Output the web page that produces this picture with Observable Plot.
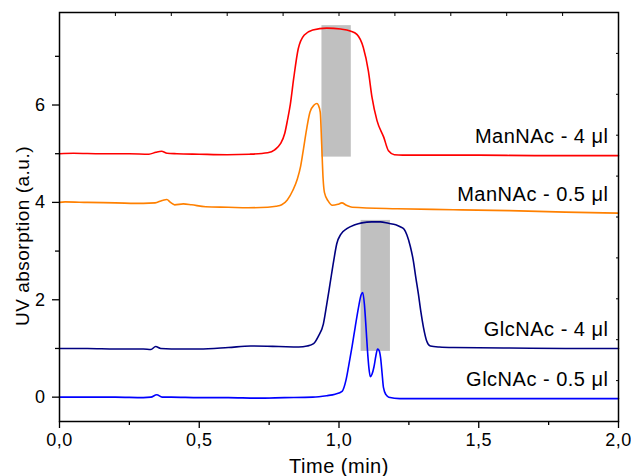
<!DOCTYPE html>
<html><head><meta charset="utf-8">
<script src="https://cdn.jsdelivr.net/npm/d3@7"></script>
<script src="https://cdn.jsdelivr.net/npm/@observablehq/plot@0.6"></script>
<style>html,body{margin:0;padding:0;background:#fff}#chart svg text{letter-spacing:0.5px}</style>
</head><body><div id="chart"></div>
<script>
// ---- data ----
const redT = [0,0.05,0.15,0.25,0.32,0.345,0.365,0.385,0.42,0.5,0.6,0.68,0.745,0.77,0.79,0.806,0.816,0.826,0.838,0.854,0.876,0.906,0.956,1.006,1.04,1.064,1.087,1.105,1.118,1.136,1.16,1.177,1.198,1.228,1.3,1.5,1.7,2.0];
const redV = [5.0,5.01,5.0,5.0,4.99,5.03,5.05,5.01,5.0,4.99,4.98,4.99,5.02,5.08,5.2,5.42,5.7,6.02,6.55,7.15,7.44,7.54,7.58,7.56,7.52,7.45,7.18,6.7,6.16,5.68,5.34,5.06,4.98,4.97,4.97,4.97,4.96,4.96];

const orangeT = [0,0.02,0.1,0.2,0.3,0.342,0.367,0.384,0.397,0.412,0.443,0.473,0.523,0.604,0.674,0.745,0.775,0.795,0.815,0.835,0.851,0.863,0.873,0.884,0.896,0.911,0.921,0.926,0.933,0.938,0.943,0.948,0.961,0.976,0.996,1.01,1.027,1.047,1.208,1.41,1.61,1.81,2.0];
const orangeV = [4.0,4.01,4.0,3.99,3.98,3.99,4.04,4.06,4.0,3.95,3.97,3.95,3.91,3.9,3.89,3.9,3.92,3.95,4.05,4.25,4.48,4.75,5.1,5.5,5.85,6.0,6.03,6.0,5.85,5.2,4.5,4.2,4.03,3.94,3.96,3.99,3.94,3.9,3.87,3.85,3.83,3.8,3.78];

const navyT = [0,0.1,0.2,0.3,0.327,0.344,0.362,0.4,0.5,0.604,0.684,0.785,0.856,0.886,0.909,0.926,0.944,0.956,0.968,0.981,0.992,1.007,1.028,1.057,1.082,1.117,1.148,1.177,1.203,1.219,1.233,1.243,1.255,1.266,1.275,1.284,1.293,1.302,1.314,1.327,1.359,1.41,1.61,1.81,2.0];
const navyV = [1.0,1.0,0.99,0.99,0.98,1.04,1.0,0.99,0.99,1.02,1.05,1.04,1.03,1.05,1.1,1.25,1.5,1.9,2.33,2.8,3.15,3.35,3.46,3.54,3.58,3.6,3.6,3.57,3.54,3.5,3.45,3.33,3.1,2.8,2.45,2.12,1.75,1.44,1.15,1.05,1.03,1.02,1.01,1.0,1.0];

const blueT = [0,0.1,0.2,0.3,0.327,0.348,0.367,0.4,0.5,0.604,0.705,0.805,0.906,0.956,0.986,1.011,1.025,1.034,1.047,1.058,1.07,1.079,1.085,1.091,1.097,1.102,1.107,1.112,1.118,1.125,1.132,1.138,1.144,1.149,1.154,1.159,1.168,1.178,1.218,1.41,1.71,2.0];
const blueV = [0.0,0.0,0.0,-0.01,0.0,0.05,0.0,0.0,-0.01,-0.01,-0.02,-0.01,0.0,0.03,0.06,0.12,0.35,0.62,1.05,1.44,1.85,2.1,2.15,1.9,1.4,0.95,0.6,0.42,0.47,0.62,0.85,0.99,0.95,0.8,0.5,0.2,0.05,0.0,-0.03,-0.03,-0.03,-0.03];

const seriesLabels = ["ManNAc - 4 μl", "ManNAc - 0.5 μl", "GlcNAc - 4 μl", "GlcNAc - 0.5 μl"];
const seriesColors = ["#ff0000", "#ff8000", "#000080", "#0000ff"];

const bandX1 = [0.939, 1.079];
const bandX2 = [1.044, 1.184];
const bandY1 = [4.93, 0.94];
const bandY2 = [7.63, 3.63];

const xMajorTicks = [0, 0.5, 1.0, 1.5, 2.0];
const xMinorTicks = [0.25, 0.75, 1.25, 1.75];
const xTopTicks = [0,0.2,0.4,0.6,0.8,1.0,1.2,1.4,1.6,1.8,2.0];
const yMajorTicks = [0, 2, 4, 6];
const yMinorTicks = [1, 3, 5, 7];
const yDomain = [-0.5, 7.9];
const yRightTicks = d3.range(11).map(i => yDomain[0] + i * (yDomain[1] - yDomain[0]) / 10);

// ---- build tables ----
const seriesT = [redT, orangeT, navyT, blueT];
const seriesV = [redV, orangeV, navyV, blueV];
const series = seriesLabels.map((label, k) => ({
  label, color: seriesColors[k],
  points: seriesT[k].map((t, i) => ({t, v: seriesV[k][i]})),
  last: seriesV[k][seriesV[k].length - 1]
}));
const bands = bandX1.map((x1, i) => ({x1, x2: bandX2[i], y1: bandY1[i], y2: bandY2[i]}));

const fmt = d => d.toFixed(1).replace(".", ",");
const none = () => "";
const font = "'Liberation Sans', Arial, Helvetica, sans-serif";

const chart = Plot.plot({
  width: 631, height: 476,
  marginLeft: 59, marginRight: 13, marginTop: 12, marginBottom: 55,
  style: {fontFamily: font, background: "white", color: "black", overflow: "visible"},
  x: {domain: [0, 2]},
  y: {domain: yDomain},
  marks: [
    Plot.rect(bands, {x1: "x1", x2: "x2", y1: "y1", y2: "y2", fill: "#c0c0c0"}),
    ...series.map(s => Plot.line(s.points, {x: "t", y: "v", stroke: s.color, strokeWidth: 1.6, curve: "monotone-x"})),
    Plot.text(series, {frameAnchor: "right", dx: -10, dy: -19, y: "last", text: "label", textAnchor: "end", lineAnchor: "middle", fontSize: 20, fill: "black"}),
    Plot.axisX(xMajorTicks, {anchor: "bottom", tickSize: 7, tickPadding: 5, tickFormat: fmt, fontSize: 18, strokeWidth: 1.3, label: null}),
    Plot.axisX(xMinorTicks, {anchor: "bottom", tickSize: 4, tickFormat: none, strokeWidth: 1.3, label: null}),
    Plot.axisX(xTopTicks, {anchor: "top", tickSize: -3, tickFormat: none, strokeWidth: 1, label: null}),
    Plot.axisY(yMajorTicks, {anchor: "left", tickSize: 7, tickPadding: 7, tickFormat: d => String(d), fontSize: 18, strokeWidth: 1.3, label: null}),
    Plot.axisY(yMinorTicks, {anchor: "left", tickSize: 4, tickFormat: none, strokeWidth: 1.3, label: null}),
    Plot.axisY(yRightTicks, {anchor: "right", tickSize: -3, tickFormat: none, strokeWidth: 1, label: null}),
    Plot.text(["Time (min)"], {text: d => d, frameAnchor: "bottom", dy: 51, lineAnchor: "bottom", fontSize: 20, fill: "black"}),
    Plot.text(["UV absorption (a.u.)"], {text: d => d, frameAnchor: "left", rotate: -90, dx: -37, dy: 19, lineAnchor: "middle", textAnchor: "middle", fontSize: 19, fill: "black"}),
    Plot.frame({stroke: "black", strokeWidth: 1.5})
  ]
});
document.getElementById("chart").appendChild(chart);
</script>
</body></html>
